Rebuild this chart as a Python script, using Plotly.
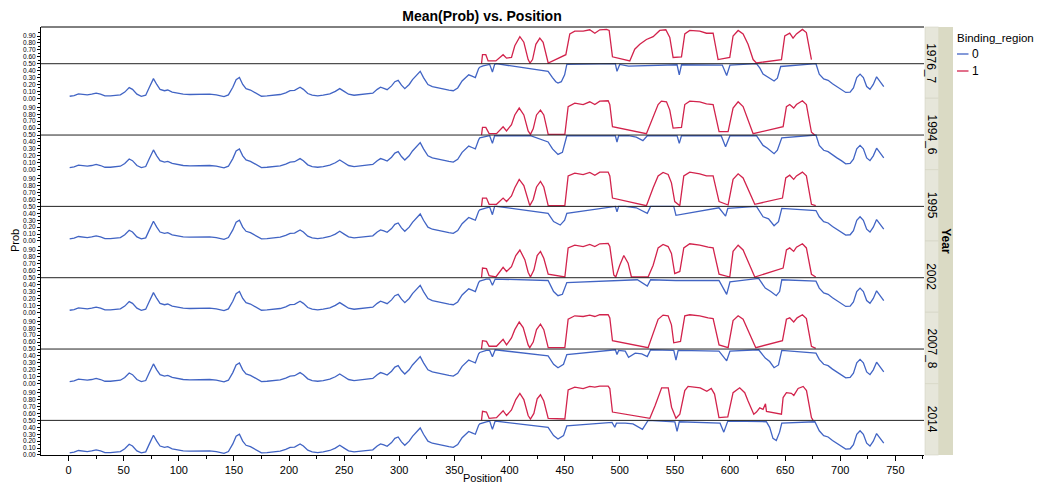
import plotly.graph_objects as go

# ---------------- data ----------------
years = ["1976_7", "1994_6", "1995", "2002", "2007_8", "2014"]

# Binding_region 0, part common to all years (Position 0-372)
blue_common_pos = [1, 5, 9, 13, 17, 21, 25, 29, 33, 38, 43, 47, 51, 55, 58, 62, 66, 70, 73, 77, 80, 83, 87, 90, 94,
                   99, 104, 110, 116, 122, 128, 134, 138, 141, 145, 149, 152, 155, 158, 161, 165, 170, 175, 180, 186,
                   192, 197, 201, 205, 210, 213, 217, 221, 226, 231, 237, 242, 246, 250, 254, 259, 265, 271, 276, 280,
                   283, 286, 289, 293, 296, 299, 302, 305, 309, 312, 316, 319, 322, 326, 330, 335, 340, 345, 349, 353,
                   357, 360, 363, 366, 369, 372]
blue_common_prob = [0.03, 0.04, 0.065, 0.055, 0.05, 0.06, 0.075, 0.06, 0.035, 0.035, 0.045, 0.05, 0.09, 0.155, 0.13,
                    0.06, 0.03, 0.045, 0.15, 0.285, 0.2, 0.13, 0.11, 0.12, 0.09, 0.07, 0.06, 0.055, 0.06, 0.065, 0.06,
                    0.05, 0.035, 0.025, 0.05, 0.16, 0.27, 0.3, 0.2, 0.14, 0.12, 0.07, 0.03, 0.035, 0.05, 0.055, 0.08,
                    0.11, 0.115, 0.16, 0.13, 0.07, 0.045, 0.035, 0.045, 0.065, 0.1, 0.14, 0.1, 0.06, 0.045, 0.055,
                    0.06, 0.075, 0.13, 0.16, 0.145, 0.125, 0.18, 0.24, 0.26, 0.19, 0.14, 0.2, 0.27, 0.34, 0.39, 0.3,
                    0.2, 0.17, 0.15, 0.14, 0.12, 0.11, 0.15, 0.25, 0.3, 0.34, 0.32, 0.3, 0.43]

# Binding_region 0, tail common to all years (Position 681-740)
blue_tail_pos = [681, 685, 689, 693, 697, 701, 705, 709, 712, 715, 718, 721, 724, 727, 730, 733, 736, 739.5]
blue_tail_prob = [0.35, 0.28, 0.26, 0.21, 0.17, 0.13, 0.085, 0.09, 0.15, 0.3, 0.35, 0.3, 0.17, 0.13, 0.2, 0.31,
                  0.24, 0.17]

# Binding_region 0, middle part per year
blue_pos_1976_7 = [373, 376, 379, 382, 384.5, 386.5, 388, 435, 439, 442, 444, 447, 450, 452, 496, 497.5, 500, 508,
                   552, 554, 556, 593, 597, 600, 624, 627, 630, 634, 637, 640, 643, 646, 678]
blue_prob_1976_7 = [0.45, 0.47, 0.48, 0.49, 0.38, 0.49, 0.5, 0.39, 0.30, 0.24, 0.22, 0.24, 0.34, 0.49, 0.5, 0.39,
                    0.49, 0.465, 0.485, 0.34, 0.485, 0.48, 0.33, 0.48, 0.5, 0.44, 0.35, 0.31, 0.27, 0.25, 0.29,
                    0.46, 0.5]

blue_pos_1994_6 = [373, 379, 382, 384.5, 386.5, 419, 435, 439, 444, 448, 451, 452, 496, 497.5, 499, 508, 515, 521,
                   525, 552, 554, 556, 592, 596, 600, 624, 630, 634, 640, 643, 647, 678]
blue_prob_1994_6 = [0.46, 0.48, 0.49, 0.38, 0.49, 0.49, 0.4, 0.3, 0.22, 0.25, 0.45, 0.49, 0.49, 0.4, 0.49, 0.49,
                    0.47, 0.42, 0.49, 0.49, 0.38, 0.49, 0.49, 0.33, 0.49, 0.49, 0.35, 0.31, 0.23, 0.28, 0.46, 0.5]

blue_pos_1995 = [373, 379, 382, 384.5, 386.5, 388, 435, 440, 446, 450, 452, 496, 497.5, 499, 505, 515, 525, 528,
                 549, 551, 590, 596, 598, 624, 630, 635, 640, 644, 647, 678]
blue_prob_1995 = [0.45, 0.48, 0.49, 0.38, 0.5, 0.5, 0.4, 0.28, 0.23, 0.3, 0.4, 0.5, 0.42, 0.5, 0.5, 0.48, 0.4, 0.5,
                  0.5, 0.37, 0.48, 0.36, 0.47, 0.5, 0.35, 0.32, 0.22, 0.28, 0.47, 0.44]

blue_pos_2002 = [373, 379, 382, 384.5, 387, 435, 440, 444, 448, 452, 516, 525, 528, 551, 590, 597, 600, 626, 632,
                 637, 642, 645, 647, 678]
blue_prob_2002 = [0.45, 0.48, 0.48, 0.39, 0.48, 0.46, 0.3, 0.24, 0.26, 0.43, 0.47, 0.38, 0.47, 0.46, 0.46, 0.26,
                  0.44, 0.49, 0.35, 0.3, 0.24, 0.3, 0.47, 0.45]

blue_pos_2007_8 = [373, 379, 382, 384.5, 387, 435, 440, 444, 449, 452, 496, 497.5, 499, 505, 508, 514, 520, 525,
                   528, 549, 551, 553, 590, 597, 600, 626, 632, 636, 640, 644, 647, 678]
blue_prob_2007_8 = [0.45, 0.48, 0.48, 0.39, 0.49, 0.4, 0.28, 0.23, 0.28, 0.42, 0.49, 0.42, 0.48, 0.47, 0.38, 0.44,
                    0.43, 0.39, 0.49, 0.48, 0.34, 0.48, 0.47, 0.33, 0.47, 0.49, 0.37, 0.32, 0.23, 0.27, 0.48, 0.44]

blue_pos_2014 = [373, 379, 382, 384.5, 387, 435, 440, 444, 449, 452, 493, 495.5, 497, 505, 512, 520.6, 525.7, 550,
                 552, 554, 591, 594.4, 598, 633, 636, 639, 642, 645, 647, 677]
blue_prob_2014 = [0.45, 0.48, 0.49, 0.37, 0.49, 0.4, 0.28, 0.23, 0.28, 0.42, 0.47, 0.4, 0.46, 0.46, 0.45, 0.37, 0.5,
                  0.48, 0.34, 0.48, 0.46, 0.33, 0.49, 0.48, 0.4, 0.24, 0.21, 0.33, 0.46, 0.48]

# Binding_region 1 per year
red_pos_1976_7 = [374.6, 375.5, 378.5, 380.6, 387.6, 394.2, 397.3, 401.8, 404.8, 409.4, 413, 416.9, 418.6, 420.9,
                  423.9, 427.5, 430.5, 435.1, 451.1, 454.7, 459.2, 466.8, 472.8, 477.4, 481.9, 488, 490.4, 493.4,
                  509.1, 513.6, 518.2, 524.2, 530.3, 536.3, 541.8, 545.4, 548.4, 556, 559, 563.5, 572.6, 578.7,
                  584.7, 589.2, 599.8, 602.8, 607.4, 611.9, 616.4, 621, 624, 646.7, 649.7, 654.2, 657.2, 660.3,
                  665.7, 669.3, 673.9]
red_prob_1976_7 = [0.5, 0.63, 0.63, 0.54, 0.54, 0.63, 0.58, 0.59, 0.76, 0.89, 0.81, 0.56, 0.51, 0.56, 0.78, 0.87,
                   0.81, 0.51, 0.63, 0.93, 0.97, 0.97, 0.99, 0.94, 0.99, 0.995, 0.98, 0.6, 0.54, 0.71, 0.78, 0.85,
                   0.89, 0.98, 0.99, 0.88, 0.59, 0.6, 0.93, 0.98, 0.97, 0.94, 0.94, 0.56, 0.59, 0.9, 0.98, 0.93,
                   0.78, 0.56, 0.51, 0.56, 0.9, 0.94, 0.87, 0.93, 0.995, 0.95, 0.56]

red_pos_1994_6 = [374.6, 375.5, 378.5, 381.5, 388.2, 394.2, 397.3, 401.8, 404.8, 408.8, 413, 416.9, 419, 421.5,
                  424.5, 428.1, 431.1, 435.1, 450.2, 453.2, 459.2, 466.8, 472.8, 477.4, 481.9, 489.5, 491, 493.4,
                  524.2, 530.3, 534.8, 537.8, 542.4, 545.4, 548.4, 556, 559, 563.5, 572.6, 578.7, 584.7, 590.1,
                  598.3, 602.8, 607.4, 611.9, 616.4, 621, 648.2, 651.2, 654.2, 657.8, 660.3, 665.7, 669.3, 673.9,
                  676.9]
red_prob_1994_6 = [0.5, 0.61, 0.61, 0.52, 0.52, 0.62, 0.56, 0.65, 0.79, 0.89, 0.79, 0.56, 0.51, 0.59, 0.79, 0.86,
                   0.79, 0.51, 0.51, 0.91, 0.96, 0.94, 0.98, 0.94, 0.99, 0.995, 0.94, 0.62, 0.52, 0.77, 0.94, 0.99,
                   0.98, 0.86, 0.6, 0.61, 0.94, 0.99, 0.98, 0.95, 0.94, 0.55, 0.55, 0.89, 0.98, 0.91, 0.72, 0.52,
                   0.62, 0.91, 0.94, 0.89, 0.94, 0.995, 0.94, 0.54, 0.5]

red_pos_1995 = [374.6, 375.5, 379.1, 381.5, 388.2, 394.2, 397.3, 401.8, 404.8, 408.8, 413, 416.9, 418.4, 421.5,
                424.5, 428.1, 431.1, 435.1, 450.2, 453.2, 459.2, 466.8, 472.8, 477.4, 481.9, 489.5, 491, 493.4,
                524.2, 530.3, 534.8, 539.3, 543.9, 546.9, 549.9, 554.5, 558.1, 563.5, 572.6, 578.7, 584.7, 590.1,
                598.3, 602.8, 607.4, 611.9, 616.4, 622.5, 647.6, 650.6, 654.2, 657.8, 660.3, 665.7, 669.3, 673.9,
                677.8]
red_prob_1995 = [0.5, 0.62, 0.62, 0.53, 0.53, 0.62, 0.57, 0.65, 0.77, 0.89, 0.8, 0.57, 0.51, 0.6, 0.78, 0.86, 0.78,
                 0.51, 0.51, 0.94, 0.98, 0.96, 0.99, 0.95, 0.995, 0.995, 0.94, 0.62, 0.51, 0.77, 0.94, 0.99, 0.96,
                 0.84, 0.57, 0.51, 0.94, 0.995, 0.97, 0.94, 0.94, 0.57, 0.52, 0.89, 0.97, 0.91, 0.75, 0.53, 0.62,
                 0.91, 0.95, 0.89, 0.94, 0.995, 0.94, 0.53, 0.51]

red_pos_2002 = [374.6, 375.5, 379.1, 381.5, 387.6, 394.2, 397.3, 401.8, 405.7, 409.4, 413.9, 416.9, 419, 422.1,
                425.1, 428.1, 431.1, 435.1, 450.2, 453.2, 459.2, 466.8, 472.8, 477.4, 481.9, 489.5, 491, 494.6,
                496.4, 500, 503.7, 507.6, 510.6, 525.7, 530.3, 534.8, 539.3, 543.9, 546.9, 549.9, 554.5, 558.1,
                563.5, 572.6, 580.2, 584.7, 590.1, 599.8, 602.8, 607.4, 611.9, 616.4, 622.5, 648.2, 651.2, 654.2,
                657.8, 660.3, 665.7, 669.3, 673.9, 677.8]
red_prob_2002 = [0.5, 0.64, 0.63, 0.53, 0.51, 0.65, 0.59, 0.66, 0.82, 0.9, 0.76, 0.58, 0.51, 0.61, 0.82, 0.88, 0.78,
                 0.55, 0.51, 0.93, 0.97, 0.95, 0.98, 0.95, 0.99, 0.995, 0.95, 0.54, 0.51, 0.68, 0.82, 0.71, 0.51,
                 0.51, 0.68, 0.93, 0.98, 0.95, 0.85, 0.56, 0.59, 0.93, 0.99, 0.97, 0.94, 0.93, 0.55, 0.51, 0.88,
                 0.97, 0.9, 0.73, 0.51, 0.64, 0.9, 0.93, 0.88, 0.94, 0.99, 0.93, 0.55, 0.51]

red_pos_2007_8 = [374.6, 375.5, 379.1, 381.5, 388.2, 394.2, 397.3, 401.8, 404.8, 408.8, 412.4, 416.9, 418.4, 421.5,
                  424.5, 428.1, 431.1, 435.1, 450.2, 453.2, 459.2, 466.8, 472.8, 477.4, 481.9, 489.5, 491, 493.4,
                  525.7, 530.3, 534.8, 539.3, 543.9, 546.9, 549, 555.1, 559, 563.5, 572.6, 580.2, 584.7, 590.1,
                  598.3, 602.8, 607.4, 611.9, 616.4, 623.4, 647.6, 651.2, 654.2, 657.8, 660.9, 665.7, 669.3, 673.9,
                  677.8]
red_prob_2007_8 = [0.5, 0.62, 0.61, 0.54, 0.54, 0.64, 0.56, 0.66, 0.78, 0.89, 0.81, 0.56, 0.52, 0.6, 0.78, 0.86,
                   0.78, 0.52, 0.52, 0.93, 0.98, 0.97, 0.99, 0.97, 0.995, 0.995, 0.95, 0.62, 0.52, 0.73, 0.93, 0.99,
                   0.98, 0.85, 0.59, 0.61, 0.98, 0.995, 0.98, 0.95, 0.94, 0.56, 0.52, 0.91, 0.98, 0.93, 0.76, 0.52,
                   0.62, 0.93, 0.95, 0.89, 0.95, 0.995, 0.94, 0.54, 0.51]

red_pos_2014 = [374.6, 375.5, 379.1, 381.5, 388.2, 394.2, 397.3, 401.8, 405.7, 409.4, 413, 416.9, 419, 422.1, 425.1,
                428.1, 431.1, 435.1, 450.2, 453.2, 459.2, 466.8, 472.8, 477.4, 481.9, 489.5, 491, 493.4, 527.3, 532,
                538, 544, 547, 551, 554.5, 559, 562, 573, 579, 583, 586, 590, 598, 602.8, 608.8, 613.4, 616.4,
                621.6, 624, 627, 630, 632.2, 633.1, 646.7, 648.2, 651.2, 655.7, 657.9, 661.8, 666.4, 669.4, 673.9,
                675.4]
red_prob_2014 = [0.5, 0.63, 0.62, 0.53, 0.54, 0.64, 0.57, 0.65, 0.8, 0.89, 0.8, 0.57, 0.52, 0.6, 0.81, 0.87, 0.78,
                 0.53, 0.52, 0.94, 0.98, 0.96, 0.99, 0.98, 0.995, 0.995, 0.96, 0.62, 0.53, 0.71, 0.97, 0.97, 0.69,
                 0.53, 0.59, 0.93, 0.99, 0.97, 0.92, 0.96, 0.88, 0.54, 0.55, 0.9, 0.97, 0.9, 0.78, 0.59, 0.62, 0.68,
                 0.66, 0.74, 0.63, 0.59, 0.83, 0.9, 0.89, 0.86, 0.96, 0.99, 0.93, 0.54, 0.5]

blue_mid = {
    "1976_7": (blue_pos_1976_7, blue_prob_1976_7),
    "1994_6": (blue_pos_1994_6, blue_prob_1994_6),
    "1995": (blue_pos_1995, blue_prob_1995),
    "2002": (blue_pos_2002, blue_prob_2002),
    "2007_8": (blue_pos_2007_8, blue_prob_2007_8),
    "2014": (blue_pos_2014, blue_prob_2014),
}
red_series = {
    "1976_7": (red_pos_1976_7, red_prob_1976_7),
    "1994_6": (red_pos_1994_6, red_prob_1994_6),
    "1995": (red_pos_1995, red_prob_1995),
    "2002": (red_pos_2002, red_prob_2002),
    "2007_8": (red_pos_2007_8, red_prob_2007_8),
    "2014": (red_pos_2014, red_prob_2014),
}

legend_labels = ["0", "1"]
x_ticks = list(range(0, 751, 50))
y_ticks = [0.0, 0.1, 0.2, 0.3, 0.4, 0.5, 0.6, 0.7, 0.8, 0.9]

# ---------------- styling ----------------
BLUE = "#4164C4"
RED = "#D2234C"
FONT = "Liberation Sans, Arial, Helvetica, sans-serif"
W, H = 1040, 484
ML, MR, MT, MB = 41, 116, 27, 29
PW = W - ML - MR
PH = H - MT - MB
n = len(years)


def px_x(p):
    return (p - ML) / PW


def px_y(p):
    return 1 - (p - MT) / PH


fig = go.Figure()
for i, yr in enumerate(years):
    ax = "y" if i == 0 else f"y{i + 1}"
    bp, bv = blue_mid[yr]
    fig.add_trace(go.Scatter(
        x=blue_common_pos + bp + blue_tail_pos,
        y=blue_common_prob + bv + blue_tail_prob,
        mode="lines", line=dict(color=BLUE, width=1.3),
        xaxis="x", yaxis=ax, showlegend=False, name="0"))
    rp, rv = red_series[yr]
    fig.add_trace(go.Scatter(
        x=rp, y=rv, mode="lines", line=dict(color=RED, width=1.3),
        xaxis="x", yaxis=ax, showlegend=False, name="1"))

layout = dict(
    width=W, height=H,
    margin=dict(l=ML, r=MR, t=MT, b=MB, autoexpand=False),
    paper_bgcolor="white", plot_bgcolor="white",
    font=dict(family=FONT, color="black"),
    title=dict(text="<b>Mean(Prob) vs. Position</b>", x=(482 - ML) / PW, xref="paper",
               y=1 - 16 / H, yref="container", xanchor="center", yanchor="middle",
               font=dict(size=14, family=FONT, color="black")),
    xaxis=dict(domain=[0, 1], anchor=f"y{n}", range=[-25, 776], automargin=False,
               tickvals=x_ticks, ticks="outside", ticklen=5, tickcolor="black",
               minor=dict(tickvals=[v + 25 for v in x_ticks], ticks="outside", ticklen=3, tickcolor="black"),
               showline=True, linecolor="black", linewidth=1, showgrid=False, zeroline=False,
               tickfont=dict(size=11), title=dict(text="Position", font=dict(size=11), standoff=0)),
    shapes=[], annotations=[],
)
for i, yr in enumerate(years):
    key = "yaxis" if i == 0 else f"yaxis{i + 1}"
    top = 1 - i / n
    bot = 1 - (i + 1) / n
    layout[key] = dict(
        domain=[bot, top], anchor="x", range=[0, 1.03], automargin=False,
        tickvals=y_ticks, ticktext=[f"{v:.2f}" for v in y_ticks],
        ticks="outside", ticklen=3, tickcolor="black",
        minor=dict(tickvals=[v + 0.05 for v in y_ticks], ticks="outside", ticklen=2, tickcolor="black"),
        showline=True, linecolor="black", linewidth=1, showgrid=False, zeroline=False,
        tickfont=dict(size=6.5))
    # reference line at 0.5
    layout["shapes"].append(dict(type="line", xref="paper", x0=0, x1=1,
                                 yref="y" if i == 0 else f"y{i + 1}", y0=0.5, y1=0.5,
                                 line=dict(color="#222222", width=1)))
    # strip segment
    layout["shapes"].append(dict(type="rect", xref="paper", yref="paper",
                                 x0=px_x(925), x1=px_x(938.5), y0=bot, y1=top,
                                 fillcolor="#E6E6DA", line=dict(color="#D3D3C3", width=0.6), layer="below"))
    layout["annotations"].append(dict(text=yr, xref="paper", yref="paper", x=px_x(931.5),
                                      y=(top + bot) / 2, showarrow=False, textangle=90,
                                      xanchor="center", yanchor="middle", font=dict(size=12)))

# top border
layout["shapes"].append(dict(type="line", xref="paper", yref="paper", x0=0, x1=1, y0=1, y1=1,
                             line=dict(color="black", width=1)))
# outer "Year" strip
layout["shapes"].append(dict(type="rect", xref="paper", yref="paper", x0=px_x(938.5), x1=px_x(953),
                             y0=0, y1=1, fillcolor="#DADAC4", line=dict(width=0), layer="below"))
layout["annotations"].append(dict(text="<b>Year</b>", xref="paper", yref="paper", x=px_x(945.8), y=0.5,
                                  showarrow=False, textangle=90, xanchor="center", yanchor="middle",
                                  font=dict(size=12)))
# y-axis title
layout["annotations"].append(dict(text="Prob", xref="paper", yref="paper", x=px_x(15), y=px_y(241),
                                  showarrow=False, textangle=-90, xanchor="center", yanchor="middle",
                                  font=dict(size=11)))
# legend (manual)
layout["annotations"].append(dict(text="Binding_region", xref="paper", yref="paper", x=px_x(955),
                                  y=px_y(38), showarrow=False, xanchor="left", yanchor="middle",
                                  font=dict(size=11.5)))
for lab, col, yy in zip(legend_labels, [BLUE, RED], [54, 71]):
    layout["shapes"].append(dict(type="line", xref="paper", yref="paper", x0=px_x(957), x1=px_x(968.5),
                                 y0=px_y(yy), y1=px_y(yy), line=dict(color=col, width=1.3)))
    layout["annotations"].append(dict(text=lab, xref="paper", yref="paper", x=px_x(969.5), y=px_y(yy),
                                      showarrow=False, xanchor="left", yanchor="middle",
                                      font=dict(size=12)))

fig.update_layout(**layout)
fig.write_html("out.html", config={"displayModeBar": False},
               post_script="document.body.style.margin='0px';document.body.style.overflow='hidden';")
